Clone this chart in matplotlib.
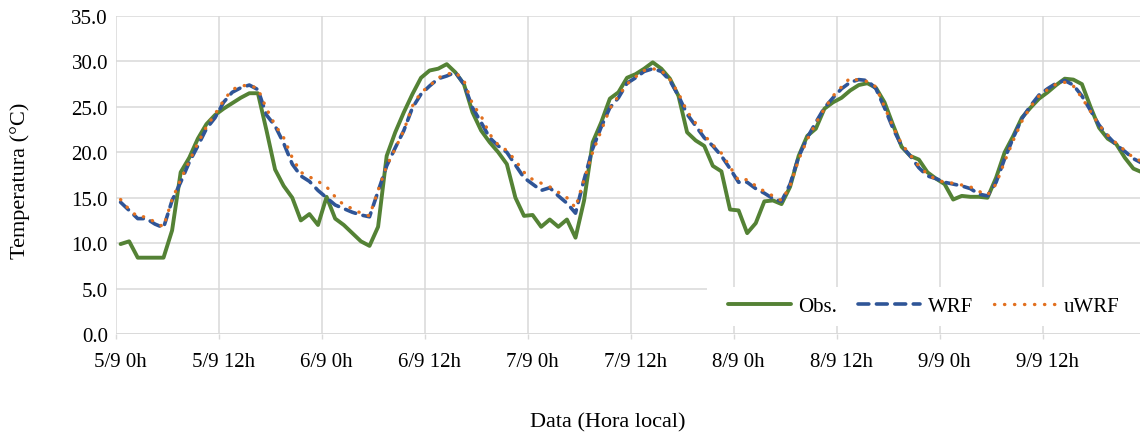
import matplotlib
matplotlib.use("Agg")
import matplotlib.pyplot as plt
from matplotlib.patches import Rectangle
import numpy as np

# Hourly air temperature (°C), 5/9 0h to 9/9 23h, local time
obs = [9.9, 10.2, 8.4, 8.4, 8.4, 8.4, 11.4, 17.8, 19.4, 21.5, 23.1, 24.1,
       24.8, 25.4, 26.0, 26.5, 26.5, 22.4, 18.1, 16.3, 15.0, 12.5, 13.2, 12.0,
       15.1, 12.7, 12.0, 11.1, 10.2, 9.7, 11.8, 19.6, 22.2, 24.4, 26.4, 28.2,
       29.0, 29.2, 29.7, 28.8, 27.5, 24.4, 22.4, 21.1, 20.0, 18.7, 15.0, 13.0,
       13.1, 11.8, 12.6, 11.8, 12.6, 10.6, 14.7, 21.1, 23.3, 25.9, 26.6, 28.2,
       28.6, 29.2, 29.9, 29.2, 28.1, 26.2, 22.2, 21.3, 20.7, 18.5, 17.9, 13.7,
       13.6, 11.1, 12.2, 14.6, 14.7, 14.3, 16.2, 19.6, 21.8, 22.6, 24.8, 25.5,
       26.0, 26.8, 27.4, 27.6, 27.1, 25.5, 23.0, 20.6, 19.6, 19.2, 17.8, 17.1,
       16.5, 14.8, 15.2, 15.1, 15.1, 15.0, 17.2, 20.0, 21.8, 23.8, 24.9, 25.9,
       26.6, 27.4, 28.1, 28.0, 27.5, 25.0, 22.7, 21.5, 20.9, 19.4, 18.2, 17.8]

wrf = [14.5, 13.6, 12.7, 12.7, 12.1, 11.7, 14.7, 16.7, 18.9, 20.7, 22.6, 23.8,
       25.5, 26.6, 27.1, 27.4, 26.9, 24.1, 22.9, 21.0, 18.7, 17.4, 16.8, 15.8,
       15.0, 14.2, 13.8, 13.4, 13.1, 12.9, 15.7, 18.5, 20.5, 22.4, 24.9, 26.4,
       27.3, 28.1, 28.4, 28.8, 27.5, 24.9, 23.3, 21.6, 20.7, 20.0, 18.6, 17.2,
       16.5, 15.8, 16.1, 15.2, 14.4, 13.3, 17.0, 20.4, 22.8, 24.9, 26.0, 27.6,
       28.2, 28.9, 29.2, 28.9, 27.9, 26.2, 24.2, 22.9, 21.6, 20.7, 19.6, 18.2,
       16.7, 16.7, 16.0, 15.5, 14.9, 14.6, 16.5, 19.5, 21.6, 23.3, 24.9, 26.0,
       27.0, 27.7, 28.0, 27.9, 27.0, 24.9, 22.6, 20.7, 19.6, 18.3, 17.4, 17.1,
       16.7, 16.5, 16.3, 16.0, 15.4, 15.2, 16.7, 19.3, 21.6, 23.7, 25.1, 26.3,
       27.0, 27.6, 27.9, 27.4, 26.2, 24.6, 23.0, 21.8, 20.8, 20.1, 19.3, 18.8]

uwrf = [14.8, 13.7, 12.9, 12.9, 12.3, 11.8, 14.8, 17.0, 19.0, 21.0, 22.8, 24.2,
        25.7, 26.9, 27.3, 27.4, 27.0, 24.8, 23.0, 21.6, 19.4, 17.8, 17.3, 16.8,
        16.2, 15.1, 14.2, 13.8, 13.3, 13.0, 15.8, 18.5, 20.4, 22.4, 25.1, 26.6,
        27.3, 28.2, 28.6, 28.8, 27.9, 25.3, 24.0, 22.0, 20.8, 20.2, 19.1, 17.8,
        17.0, 16.6, 16.2, 15.6, 15.0, 13.9, 17.0, 20.0, 22.4, 24.8, 26.2, 27.5,
        28.3, 29.0, 29.2, 29.0, 28.0, 26.5, 24.5, 23.2, 21.9, 20.8, 19.9, 18.4,
        16.9, 17.0, 16.3, 15.7, 15.2, 14.7, 16.3, 19.2, 21.4, 23.2, 24.8, 26.2,
        27.2, 28.2, 27.9, 27.8, 27.2, 25.0, 22.8, 20.9, 19.7, 18.5, 17.6, 17.0,
        16.7, 16.6, 16.4, 16.2, 15.7, 15.3, 16.5, 19.0, 21.3, 23.4, 25.0, 26.2,
        26.9, 27.5, 27.7, 27.3, 26.0, 24.5, 23.0, 21.9, 21.0, 20.2, 19.4, 19.0]

day_labels = ["5/9 0h", "5/9 12h", "6/9 0h", "6/9 12h", "7/9 0h",
              "7/9 12h", "8/9 0h", "8/9 12h", "9/9 0h", "9/9 12h"]
y_ticks = [0, 5, 10, 15, 20, 25, 30, 35]

plt.rcParams["font.family"] = ["Liberation Serif", "DejaVu Serif"]

W, H = 1140, 439
fig = plt.figure(figsize=(W / 100, H / 100), dpi=100)
ax = fig.add_axes([116.3 / W, 1 - 335 / H, 1030 / W, 318 / H])

n = len(obs)
hours = np.arange(n) + 0.5   # each hour sits in the middle of its category

grid_c = "#D9D9D9"
green = "#548235"
blue = "#2F5597"
orange = "#E2701F"

ax.plot(hours, obs, color=green, lw=2.8, solid_joinstyle="round",
        solid_capstyle="round", label="Obs.", zorder=3)
ax.plot(hours, wrf, color=blue, lw=2.6, linestyle=(0, (3.0, 2.1)),
        dash_capstyle="round", label="WRF", zorder=4)
ax.plot(hours, uwrf, color=orange, lw=2.4, linestyle=(0, (0.1, 2.9)),
        dash_capstyle="round", label="uWRF", zorder=5)

ax.set_xlim(0, n)
ax.set_ylim(0, 35)

# category boundaries every 12 h carry the grid, labels sit on the category
ax.set_xticks(np.arange(0, n, 12))
ax.set_xticklabels([])
ax.set_xticks(np.arange(0, n, 12) + 0.5, minor=True)
ax.set_xticklabels(day_labels, minor=True)
ax.tick_params(axis="x", which="major", length=3.6, width=1.0, color=grid_c)
ax.tick_params(axis="x", which="minor", length=0, pad=13, labelsize=15)

ax.set_yticks(y_ticks)
ax.set_yticklabels([f"{v:.1f}" for v in y_ticks])
ax.tick_params(axis="y", length=0, pad=6, labelsize=15)

ax.grid(True, which="major", color=grid_c, lw=1.1)
ax.set_axisbelow(True)
for s in ax.spines.values():
    s.set_visible(False)
ax.axhline(0, color=grid_c, lw=1.1, zorder=1)

fig.text(20 / W, 1 - 181 / H, "Temperatura (°C)", fontsize=16,
         rotation=90, ha="center", va="center")
fig.text(608 / W, 1 - 423 / H, "Data (Hora local)", fontsize=16,
         ha="center", va="center")

# white panel behind the legend entries
fig.patches.append(Rectangle((707 / W, 1 - 327 / H), (W - 707) / W, 39 / H,
                             transform=fig.transFigure, facecolor="white",
                             edgecolor="none", zorder=8))

leg = fig.legend(loc="center left", bbox_to_anchor=(719 / W, 1 - 307 / H),
                 ncol=3, fontsize=15, frameon=False,
                 handlelength=3.0, handletextpad=0.35, columnspacing=1.0,
                 borderpad=0.45, borderaxespad=0)
leg.set_zorder(10)

fig.savefig("out.png", dpi=100, facecolor="white")
